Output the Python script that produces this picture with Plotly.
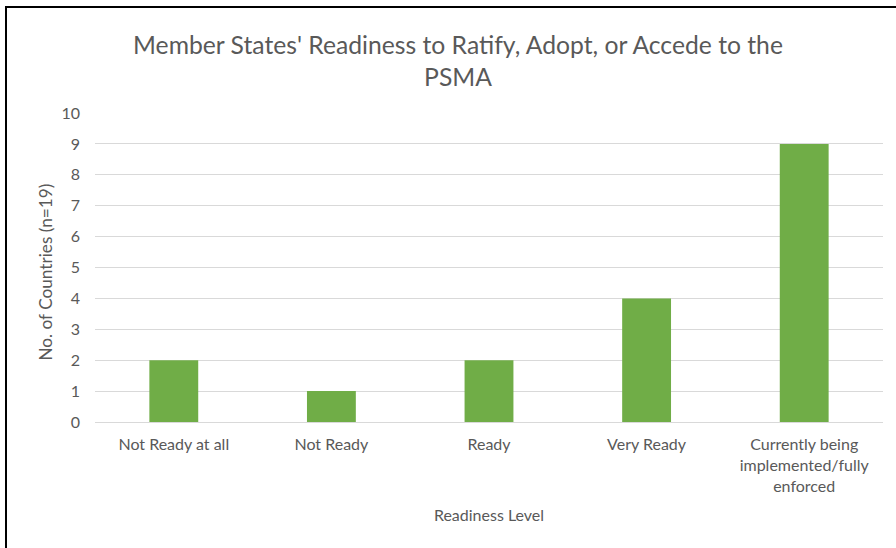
import plotly.graph_objects as go

categories = ["Not Ready at all", "Not Ready", "Ready", "Very Ready",
              "Currently being<br>implemented/fully<br>enforced"]
counts = [2, 1, 2, 4, 9]
y_ticks = list(range(0, 11))

W, H = 896, 548
L, R, T, B = 95, 13, 113, 126
pw, ph = W - L - R, H - T - B

def px_x(v):
    return (v - L) / pw

def px_y(v):
    return (H - B - v) / ph

font = "Lato, 'Open Sans', sans-serif"
grey = "#595959"

fig = go.Figure(go.Bar(x=categories, y=counts, marker=dict(color="#70ad47", line=dict(width=0))))

fig.update_layout(
    width=W, height=H,
    margin=dict(l=L, r=R, t=T, b=B, autoexpand=False),
    paper_bgcolor="white", plot_bgcolor="white",
    bargap=0.69,
    showlegend=False,
    font=dict(family=font, color=grey, size=16),
    title=dict(text="Member States' Readiness to Ratify, Adopt, or Accede to the<br>PSMA",
               x=458 / W, xanchor="center",
               y=1 - 54 / H, yanchor="middle",
               font=dict(size=24.7, color=grey, family=font)),
    xaxis=dict(showgrid=False, showline=False, ticks="", tickfont=dict(size=16, color=grey),
               ticklabelstandoff=11,
               title=dict(text="Readiness Level", font=dict(size=16, color=grey), standoff=16)),
    yaxis=dict(range=[0, 10], tickvals=y_ticks, showgrid=True, gridcolor="#d9d9d9", gridwidth=1,
               zeroline=True, zerolinecolor="#d9d9d9", zerolinewidth=1, showline=False,
               ticks="", ticklabelstandoff=14, tickfont=dict(size=16, color=grey)),
    annotations=[dict(text="No. of Countries (n=19)", textangle=-90, showarrow=False,
                      xref="paper", yref="paper", x=px_x(45), y=px_y(272.5),
                      xanchor="center", yanchor="middle",
                      font=dict(size=17.2, color=grey, family=font))],
    shapes=[
        dict(type="line", xref="paper", yref="paper",
             x0=px_x(5), x1=px_x(1100), y0=px_y(7), y1=px_y(7),
             line=dict(color="black", width=2), layer="above"),
        dict(type="line", xref="paper", yref="paper",
             x0=px_x(6), x1=px_x(6), y0=px_y(6), y1=px_y(700),
             line=dict(color="black", width=2), layer="above"),
    ],
)

fig.write_html("out.html", config={"displayModeBar": False},
               post_script="document.body.style.margin='0';document.body.style.overflow='hidden';")
